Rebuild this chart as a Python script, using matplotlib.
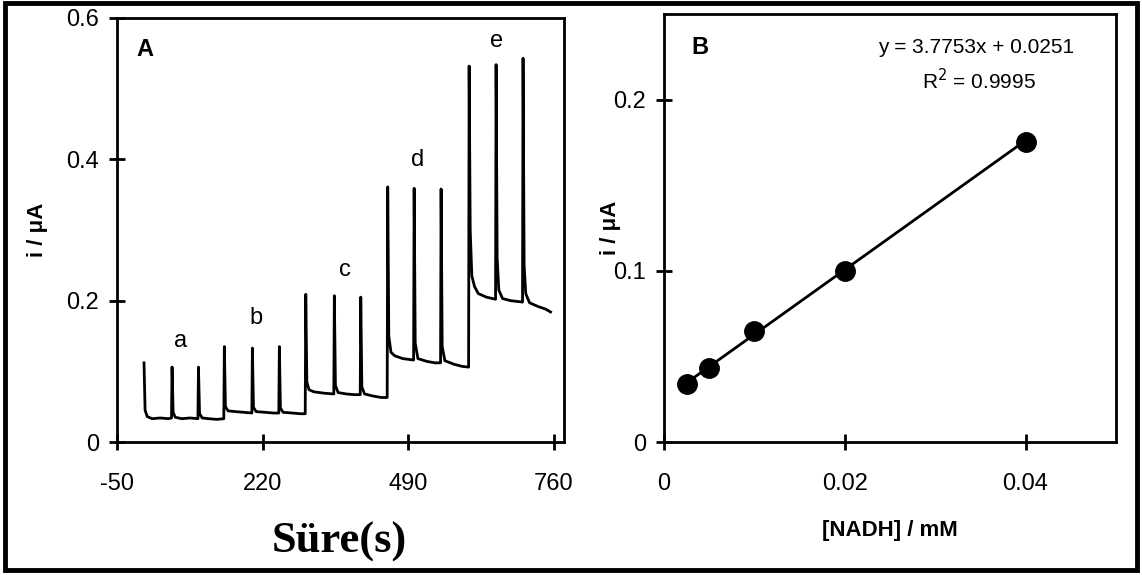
import matplotlib.pyplot as plt
from matplotlib.patches import Rectangle

plt.rcParams['font.family'] = ['Liberation Sans', 'DejaVu Sans']
plt.rcParams['axes.unicode_minus'] = False

# Panel A: amperometric trace (time s, current uA)
trace_t = [0, 2, 6, 15, 30, 45, 51,
           52, 54, 58, 70, 85, 100,
           101, 103, 108, 120, 135, 148,
           149, 151, 156, 170, 185, 200,
           201, 203, 208, 225, 240, 250,
           251, 253, 258, 275, 290, 299,
           300, 302, 306, 315, 335, 352,
           353, 355, 360, 375, 390, 401,
           402, 404, 409, 425, 440, 451,
           452, 454, 458, 465, 480, 500,
           501, 503, 508, 525, 540, 550,
           551, 553, 558, 575, 590, 602,
           603, 605, 608, 613, 620, 635, 652,
           653, 655, 658, 665, 680, 702,
           703, 705, 708, 715, 730, 745, 754]
trace_i = [0.112, 0.045, 0.036, 0.033, 0.034, 0.033, 0.034,
           0.106, 0.042, 0.035, 0.033, 0.034, 0.033,
           0.106, 0.040, 0.034, 0.033, 0.032, 0.033,
           0.135, 0.050, 0.044, 0.043, 0.042, 0.041,
           0.133, 0.049, 0.043, 0.042, 0.041, 0.041,
           0.135, 0.048, 0.042, 0.041, 0.040, 0.040,
           0.209, 0.085, 0.074, 0.071, 0.069, 0.068,
           0.207, 0.080, 0.070, 0.068, 0.067, 0.067,
           0.205, 0.078, 0.068, 0.065, 0.063, 0.063,
           0.361, 0.150, 0.127, 0.122, 0.118, 0.116,
           0.359, 0.140, 0.118, 0.114, 0.112, 0.112,
           0.358, 0.135, 0.115, 0.110, 0.107, 0.106,
           0.532, 0.300, 0.235, 0.220, 0.210, 0.205, 0.202,
           0.534, 0.260, 0.215, 0.203, 0.200, 0.198,
           0.543, 0.250, 0.210, 0.197, 0.192, 0.188, 0.184]
step_labels = ['a', 'b', 'c', 'd', 'e']
label_t = [68, 207, 372, 507, 653]
label_i = [0.143, 0.175, 0.243, 0.399, 0.567]

# Panel B: calibration
nadh = [0.0025, 0.005, 0.01, 0.02, 0.04]
current = [0.034, 0.043, 0.065, 0.100, 0.175]
slope, intercept = 3.7753, 0.0251

fig = plt.figure(figsize=(11.42, 5.75), dpi=100)

axA = fig.add_axes([0.1025, 0.2313, 0.3914, 0.7374])
axA.plot(trace_t, trace_i, color='black', lw=2)
axA.set_xlim(-50, 779)
axA.set_ylim(0, 0.6)
axA.set_xticks([-50, 220, 490, 760])
axA.set_yticks([0, 0.2, 0.4, 0.6])
axA.set_yticklabels(['0', '0.2', '0.4', '0.6'])
for lab, t, i in zip(step_labels, label_t, label_i):
    axA.text(t, i, lab, fontsize=17, ha='center', va='center')
axA.text(2, 0.555, 'A', fontsize=17, fontweight='bold', ha='center', va='center')
axA.set_ylabel('i / μA', fontsize=16, fontweight='bold', labelpad=13)
fig.text(0.297, 0.058, 'Süre(s)', family='Liberation Serif', fontsize=32,
         fontweight='bold', ha='center', va='center')

axB = fig.add_axes([0.5814, 0.2313, 0.3958, 0.7444])
axB.plot([nadh[0], nadh[-1]], [slope * nadh[0] + intercept, slope * nadh[-1] + intercept],
         color='black', lw=2)
axB.plot(nadh, current, 'o', color='black', ms=14)
axB.set_xlim(0, 0.05)
axB.set_ylim(0, 0.25)
axB.set_xticks([0, 0.02, 0.04])
axB.set_xticklabels(['0', '0.02', '0.04'])
axB.set_yticks([0, 0.1, 0.2])
axB.set_yticklabels(['0', '0.1', '0.2'])
axB.text(0.0040, 0.2303, 'B', fontsize=17, fontweight='bold', ha='center', va='center')
axB.text(0.0345, 0.2303, 'y = 3.7753x + 0.0251', fontsize=15, ha='center', va='center')
axB.text(0.0348, 0.211, 'R$^2$ = 0.9995', fontsize=15, ha='center', va='center')
axB.set_ylabel('i / μA', fontsize=16, fontweight='bold', labelpad=-6)
axB.set_xlabel('[NADH] / mM', fontsize=16, fontweight='bold', labelpad=18)

for ax in (axA, axB):
    for s in ax.spines.values():
        s.set_linewidth(2)
    ax.tick_params(direction='inout', length=12, width=2, labelsize=17)
    ax.tick_params(axis='x', pad=16)
    ax.tick_params(axis='y', pad=7)

# outer frame
fig.patches.append(Rectangle((0.004, 0.008), 0.992, 0.986, transform=fig.transFigure,
                             fill=False, edgecolor='black', lw=3.5))

fig.savefig('out.png', dpi=100)
